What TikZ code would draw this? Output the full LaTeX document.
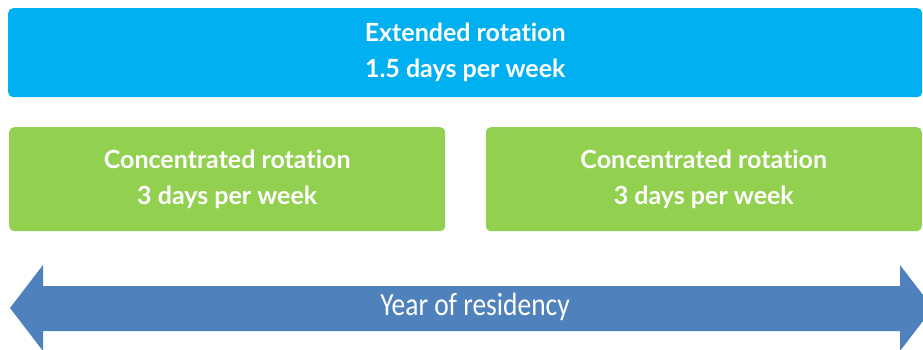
\documentclass[tikz,border=0pt]{standalone}
\usepackage{fontspec}
\setmainfont{Lato}[Ligatures=NoCommon]
\newfontfamily\arrowfont{Carlito}
\usetikzlibrary{positioning}

\begin{document}
\begin{tikzpicture}[x=1pt,y=-1pt,
  block/.style={rounded corners=5pt,inner sep=0pt,text=white,align=center,
    font=\bfseries\fontsize{25}{36}\selectfont},
  longblock/.style={block,fill=skyblue,minimum width=914pt,minimum height=89pt},
  halfblock/.style={block,fill=grass,minimum width=436pt,minimum height=104pt}]
\definecolor{skyblue}{HTML}{00B0F0}
\definecolor{grass}{HTML}{92D050}
\definecolor{steel}{HTML}{4F81BD}
\useasboundingbox (0,0) rectangle (923,350);
\clip (0,0) rectangle (923,350);
  % rotation blocks
  \node [longblock,anchor=north west] (extended) at (8,8)
    {Extended rotation\\1.5 days per week};
  \node [halfblock,anchor=north west] (concA) at (9,127)
    {Concentrated rotation\\3 days per week};
  \node [halfblock,anchor=north east] (concB) at (922,127)
    {Concentrated rotation\\3 days per week};
  % time line
  \fill [steel] (10,308) -- (43,265) -- (43,286) -- (900,286) -- (900,265)
    -- (933,308) -- (900,351) -- (900,331) -- (43,331) -- (43,351) -- cycle;
  \node [text=white,font=\arrowfont\fontsize{28}{30}\selectfont] (year) at (475,307)
    {\scalebox{0.98}[1.15]{Year of residency}};
\end{tikzpicture}
\end{document}
